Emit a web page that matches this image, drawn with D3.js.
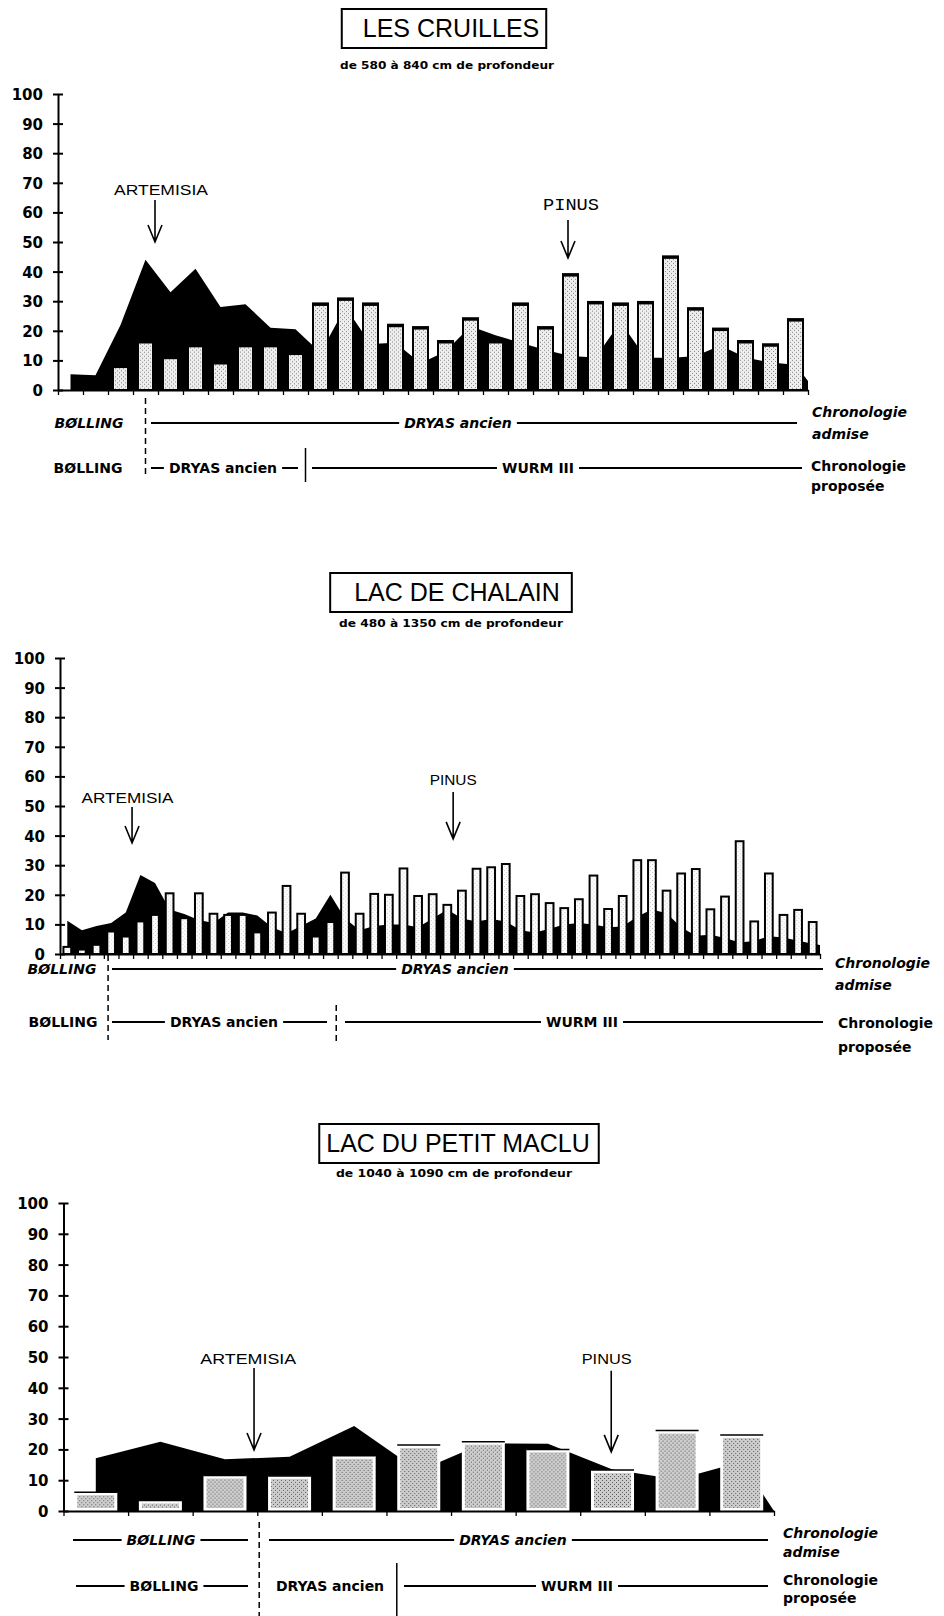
<!DOCTYPE html>
<html>
<head>
<meta charset="utf-8">
<script src="https://cdn.jsdelivr.net/npm/d3@7"></script>
<style>
  body { margin: 0; background: #fff; }
  svg { display: block; }
</style>
</head>
<body>
<svg id="fig" width="944" height="1616"></svg>
<script>
const yTicks = d3.range(0, 101, 10);

// LES CRUILLES - one value per sample level
const cruillesPinus = [0, 0, 8, 16.3, 11, 15, 9.2, 15, 15, 12.4, 29, 30.7, 29, 21.8, 21,
  16.3, 24, 16.3, 29, 21, 38.9, 29.5, 29, 29.5, 44.9, 27.4, 20.5, 16.3, 15.2, 23.7];
const cruillesArtemisia = [5.3, 5, 22, 44, 33, 41, 28, 29, 21, 20.5, 12.6, 28, 15.5, 16, 9,
  13, 21.5, 18.5, 16, 13.5, 11.5, 11, 23, 11, 10.8, 11.5, 15, 11, 9.3, 8.5];
const cruillesTail = 3;

// LAC DE CHALAIN
const chalainPinus = [2.4, 1.5, 3.1, 7.6, 5.9, 11, 13.2, 20.5, 12.1, 20.5, 13.6, 13.2, 13.2,
  7.3, 14, 23, 13.6, 5.9, 10.8, 27.5, 13.6, 20.3, 20, 28.9, 19.6, 20.2, 16.6, 21.4, 28.8,
  29.3, 30.4, 19.6, 20.2, 17.2, 15.5, 18.5, 26.5, 15.2, 19.6, 31.7, 31.7, 21.4, 27.2, 28.7,
  15.1, 19.4, 38.1, 11, 27.2, 13.2, 14.9, 10.8];
const chalainArtemisia = [11.2, 8, 9.5, 10.5, 14, 26.7, 24, 15, 13.5, 11.5, 10.5, 14, 14, 13,
  9, 7, 9.5, 12, 20, 12, 8, 9.5, 10, 10, 9, 12, 15, 12, 11, 11.8, 11, 8, 7.3, 8.5, 10, 10.5,
  10, 9, 9.3, 12.7, 15, 13.8, 9, 6.2, 6.5, 5.4, 3.9, 4.4, 6, 5.6, 4.5, 3.5];
const chalainTail = 3;

// LAC DU PETIT MACLU
const macluPinus = [6.1, 3.4, 11.5, 11.4, 17.9, 21.4, 22.5, 20, 13.3, 26.1, 24.7];
const macluArtemisia = [17.1, 22.5, 16.8, 17.6, 27.6, 13, 22, 21.8, 13.5, 10.2, 16];
const macluTail = 0;

const sans = "'Liberation Sans', Arial, sans-serif";
const geneva = "'DejaVu Sans', Verdana, sans-serif";

const charts = [
  {
    title: "LES CRUILLES", sub: "de 580 à 840 cm de profondeur",
    tx: 451, ty: 37, boxPad: [21, 7], sx: 447, sy: 69, subLen: 214,
    x0: 58, x1: 808, y0: 390, y100: 94,
    pinus: cruillesPinus, art: cruillesArtemisia, tail: cruillesTail, pad: 0.4, style: 1,
    arrows: [
      { label: "ARTEMISIA", at: 3.88, top: 64.2, tip: 50, lx: 4.12, ly: 65.9, font: sans, size: 14, len: 94 },
      { label: "PINUS", at: 20.4, top: 57.4, tip: 44.6, lx: 20.52, ly: 60.8, font: "'Liberation Mono', monospace", size: 17, len: 56 }
    ],
    rows: [
      { y: 428, italic: true, items: [{ t: "BØLLING", cx: 89 }, { t: "DRYAS ancien", cx: 458, from: 151, to: 797 }] },
      { y: 473, italic: false, items: [{ t: "BØLLING", cx: 88 }, { t: "DRYAS ancien", cx: 223, from: 151, to: 298 }, { t: "WURM III", cx: 538, from: 312, to: 802 }] }
    ],
    side: [
      { x: 812, y: 417, t: "Chronologie", italic: true }, { x: 812, y: 439, t: "admise", italic: true },
      { x: 811, y: 471, t: "Chronologie", italic: false }, { x: 811, y: 491, t: "proposée", italic: false }
    ],
    dividers: [{ at: 3.5, y1: 398, y2: 474, dash: true }, { at: 9.9, y1: 448, y2: 482, dash: false }]
  },
  {
    title: "LAC DE CHALAIN", sub: "de 480 à 1350 cm de profondeur",
    tx: 457, ty: 601, boxPad: [24, 12], sx: 451, sy: 627, subLen: 224,
    x0: 60, x1: 820, y0: 954, y100: 658,
    pinus: chalainPinus, art: chalainArtemisia, tail: chalainTail, pad: 0.47, style: 2,
    arrows: [
      { label: "ARTEMISIA", at: 4.93, top: 49.7, tip: 37.5, lx: 4.62, ly: 51, font: sans, size: 15, len: 92 },
      { label: "PINUS", at: 26.9, top: 54.7, tip: 38.9, lx: 26.9, ly: 57.1, font: sans, size: 15, len: 47 }
    ],
    rows: [
      { y: 974, italic: true, items: [{ t: "BØLLING", cx: 62 }, { t: "DRYAS ancien", cx: 455, from: 112, to: 823 }] },
      { y: 1027, italic: false, items: [{ t: "BØLLING", cx: 63 }, { t: "DRYAS ancien", cx: 224, from: 112, to: 327 }, { t: "WURM III", cx: 582, from: 345, to: 823 }] }
    ],
    side: [
      { x: 835, y: 968, t: "Chronologie", italic: true }, { x: 835, y: 990, t: "admise", italic: true },
      { x: 838, y: 1028, t: "Chronologie", italic: false }, { x: 838, y: 1052, t: "proposée", italic: false }
    ],
    dividers: [{ at: 3.29, y1: 955, y2: 1040, dash: true }, { at: 18.9, y1: 1005, y2: 1042, dash: true }]
  },
  {
    title: "LAC DU PETIT MACLU", sub: "de 1040 à 1090 cm de profondeur",
    tx: 458, ty: 1152, boxPad: [7, 9], sx: 454, sy: 1177, subLen: 236,
    x0: 63.5, x1: 774, y0: 1511, y100: 1203,
    pinus: macluPinus, art: macluArtemisia, tail: macluTail, pad: 0.365, style: 3,
    arrows: [
      { label: "ARTEMISIA", at: 2.95, top: 46.4, tip: 19.8, lx: 2.86, ly: 47.7, font: sans, size: 15, len: 96 },
      { label: "PINUS", at: 8.48, top: 45.5, tip: 19.2, lx: 8.41, ly: 47.7, font: sans, size: 15, len: 50 }
    ],
    rows: [
      { y: 1545, italic: true, items: [{ t: "BØLLING", cx: 161, from: 73, to: 248 }, { t: "DRYAS ancien", cx: 513, from: 269, to: 768 }] },
      { y: 1591, italic: false, items: [{ t: "BØLLING", cx: 164, from: 76, to: 248 }, { t: "DRYAS ancien", cx: 330 }, { t: "WURM III", cx: 577, from: 404, to: 768 }] }
    ],
    side: [
      { x: 783, y: 1538, t: "Chronologie", italic: true }, { x: 783, y: 1557, t: "admise", italic: true },
      { x: 783, y: 1585, t: "Chronologie", italic: false }, { x: 783, y: 1603, t: "proposée", italic: false }
    ],
    dividers: [{ at: 3.03, y1: 1522, y2: 1616, dash: true }, { at: 5.16, y1: 1563, y2: 1616, dash: false }]
  }
];

const svg = d3.select("#fig");
svg.append("rect").attr("width", 944).attr("height", 1616).attr("fill", "#fff");

// stipple fills for the Pinus bars
const defs = svg.append("defs");
function stipple(id, base, dot) {
  const p = defs.append("pattern").attr("id", id).attr("patternUnits", "userSpaceOnUse")
    .attr("width", 4).attr("height", 4);
  p.append("rect").attr("width", 4).attr("height", 4).attr("fill", base);
  p.append("rect").attr("x", 0).attr("y", 0).attr("width", 1).attr("height", 1).attr("fill", dot);
  p.append("rect").attr("x", 2).attr("y", 2).attr("width", 1).attr("height", 1).attr("fill", dot);
}
stipple("st1", "#eeeeee", "#848484");
stipple("st2", "#fdfdfd", "#c8c8c8");
stipple("st3", "#cdcdcd", "#555555");

function drawChart(c) {
  const g = svg.append("g");
  const n = c.pinus.length;
  const y = d3.scaleLinear().domain([0, 100]).range([c.y0, c.y100]);
  const xl = d3.scaleLinear().domain([0, n]).range([c.x0, c.x1]);
  const xb = d3.scaleBand().domain(d3.range(n)).range([c.x0, c.x1])
    .paddingInner(c.pad).paddingOuter(c.pad / 2);

  // title box + subtitle
  const title = g.append("text").attr("x", c.tx).attr("y", c.ty).attr("text-anchor", "middle")
    .attr("font-family", sans).attr("font-size", 25).text(c.title);
  const bb = title.node().getBBox();
  g.append("rect").attr("x", bb.x - c.boxPad[0]).attr("y", c.ty - 28)
    .attr("width", bb.width + c.boxPad[0] + c.boxPad[1]).attr("height", 39)
    .attr("fill", "none").attr("stroke", "#000").attr("stroke-width", 2);
  g.append("text").attr("x", c.sx).attr("y", c.sy).attr("text-anchor", "middle")
    .attr("font-family", geneva).attr("font-weight", "bold").attr("font-size", 10.5)
    .attr("textLength", c.subLen).attr("lengthAdjust", "spacingAndGlyphs").text(c.sub);

  // Artemisia as black area
  const pts = c.art.map((v, i) => [i + 0.5, v]);
  pts.push([n, c.tail]);
  const area = d3.area().x(d => xl(d[0])).y0(y(0)).y1(d => y(d[1]));
  g.append("path").attr("d", area(pts)).attr("fill", "#000");

  // Pinus bars
  const bars = g.append("g").selectAll("g").data(c.pinus).join("g")
    .attr("transform", (d, i) => `translate(${xb(i)},${y(d)})`);
  const w = xb.bandwidth();
  const h = d => Math.max(0, y(0) - y(d));
  if (c.style === 1) {
    bars.filter(d => d > 0).append("rect").attr("width", w).attr("height", h)
      .attr("fill", "url(#st1)").attr("stroke", "#000").attr("stroke-width", 2);
    bars.filter(d => d > 0).append("line").attr("x1", -1).attr("x2", w + 1)
      .attr("stroke", "#000").attr("stroke-width", 3.5);
  } else if (c.style === 2) {
    bars.append("rect").attr("width", w).attr("height", h)
      .attr("fill", "url(#st2)").attr("stroke", "#000").attr("stroke-width", 2);
  } else {
    bars.append("rect").attr("x", -1).attr("width", w + 2).attr("height", h).attr("fill", "#fff");
    bars.append("rect").attr("x", 2).attr("y", 3).attr("width", w - 4)
      .attr("height", d => Math.max(0, h(d) - 6)).attr("fill", "url(#st3)");
    bars.append("line").attr("x1", -1).attr("x2", w + 1).attr("stroke", "#000").attr("stroke-width", 1.5);
  }

  // axes
  const yAxis = g.append("g").attr("transform", `translate(${c.x0},0)`)
    .call(d3.axisLeft(y).tickValues(yTicks).tickSize(5).tickSizeOuter(0).tickPadding(10));
  yAxis.select(".domain").attr("stroke-width", 2);
  yAxis.selectAll(".tick line").attr("x1", 5).attr("stroke-width", 2);
  yAxis.selectAll(".tick text").attr("font-family", geneva).attr("font-weight", "bold")
    .attr("font-size", 15).attr("dy", "0.36em");

  const xAxis = g.append("g").attr("transform", `translate(0,${c.y0})`)
    .call(d3.axisBottom(xl).tickValues(d3.range(0, n + 1)).tickSize(5).tickSizeOuter(0).tickFormat(""));
  xAxis.select(".domain").attr("stroke-width", 2);
  xAxis.selectAll(".tick line").attr("stroke-width", 1.3);

  // arrows and their labels
  for (const a of c.arrows) {
    const ax = xl(a.at), yt = y(a.tip);
    g.append("path")
      .attr("d", `M${ax},${y(a.top)}V${yt}M${ax - 7},${yt - 17}L${ax},${yt}L${ax + 7},${yt - 17}`)
      .attr("fill", "none").attr("stroke", "#000").attr("stroke-width", 1.6);
    g.append("text").attr("x", xl(a.lx)).attr("y", y(a.ly)).attr("text-anchor", "middle")
      .attr("font-family", a.font).attr("font-size", a.size)
      .attr("textLength", a.len).attr("lengthAdjust", "spacingAndGlyphs").text(a.label);
  }

  // chronology rows
  for (const r of c.rows) {
    for (const it of r.items) {
      const t = g.append("text").attr("x", it.cx).attr("y", r.y).attr("text-anchor", "middle")
        .attr("font-family", geneva).attr("font-weight", "bold").attr("font-size", 14)
        .attr("font-style", r.italic ? "italic" : "normal").text(it.t);
      if (it.from != null) {
        const b = t.node().getBBox();
        const ly = r.y - 5;
        g.append("path").attr("d", `M${it.from},${ly}H${b.x - 5}M${b.x + b.width + 5},${ly}H${it.to}`)
          .attr("stroke", "#000").attr("stroke-width", 2);
      }
    }
  }
  for (const s of c.side) {
    g.append("text").attr("x", s.x).attr("y", s.y)
      .attr("font-family", geneva).attr("font-weight", "bold").attr("font-size", 14)
      .attr("font-style", s.italic ? "italic" : "normal").text(s.t);
  }
  for (const d of c.dividers) {
    g.append("line").attr("x1", xl(d.at)).attr("x2", xl(d.at)).attr("y1", d.y1).attr("y2", d.y2)
      .attr("stroke", "#000").attr("stroke-width", 1.5)
      .attr("stroke-dasharray", d.dash ? "6,4" : null);
  }
}

charts.forEach(drawChart);
</script>
</body>
</html>
